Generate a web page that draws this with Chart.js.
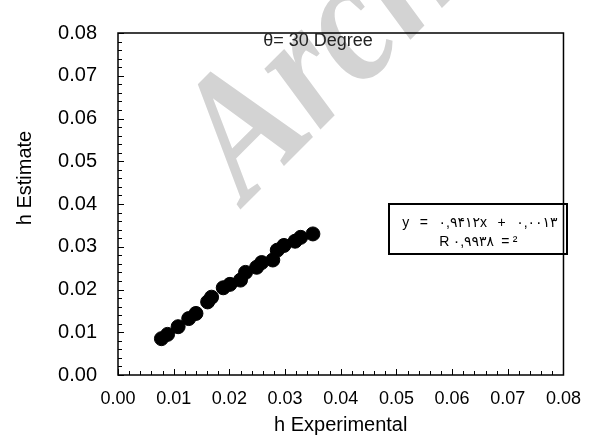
<!DOCTYPE html>
<html>
<head>
<meta charset="utf-8">
<script src="https://cdn.jsdelivr.net/npm/chart.js@4/dist/chart.umd.min.js"></script>
<style>
  html, body { margin: 0; padding: 0; background: #fff; }
  #wrap { width: 594px; height: 446px; }
</style>
</head>
<body>
<div id="wrap"><canvas id="chart"></canvas></div>
<script>
// values
const hExperimental = [0.0078, 0.0089, 0.0108, 0.0127, 0.0140, 0.0161, 0.0168, 0.0189, 0.0201, 0.0220,
  0.0229, 0.0249, 0.0258, 0.0278, 0.0286, 0.0298, 0.0318, 0.0328, 0.0350];
const hEstimate = [0.0085, 0.0095, 0.0113, 0.0132, 0.0144, 0.0171, 0.0182, 0.0204, 0.0212, 0.0222,
  0.0240, 0.0252, 0.0263, 0.0269, 0.0292, 0.0303, 0.0313, 0.0322, 0.0330];
const axisTicks = [0, 0.01, 0.02, 0.03, 0.04, 0.05, 0.06, 0.07, 0.08];
const minorStep = 0.002;

const chartTitle = "θ= 30 Degree";
const fitLines = ["y = ۰,۹۴۱۲x + ۰,۰۰۱۳", "R۰,۹۹۳۸ =²"];
const xTitle = "h Experimental";
const yTitle = "h Estimate";
const watermark = "Archive of SID";

const points = hExperimental.map((x, i) => ({ x: x, y: hEstimate[i] }));

const frame = {
  id: "frame",
  beforeDraw(chart) {
    const ctx = chart.ctx;
    ctx.save();
    ctx.fillStyle = "#fff";
    ctx.fillRect(0, 0, chart.width, chart.height);
    // watermark
    ctx.translate(246, 204);
    ctx.rotate(-45 * Math.PI / 180);
    ctx.scale(0.85, 1);
    ctx.font = "italic bold 180px 'Liberation Serif'";
    ctx.fillStyle = "#d3d3d3";
    ctx.textBaseline = "alphabetic";
    ctx.fillText(watermark, 0, 0);
    ctx.restore();
  },
  afterDatasetsDraw(chart) {
    const ctx = chart.ctx;
    const a = chart.chartArea;
    const xs = chart.scales.x, ys = chart.scales.y;
    ctx.save();
    ctx.strokeStyle = "#000";
    ctx.lineWidth = 1;
    ctx.beginPath();
    const n = Math.round((axisTicks[axisTicks.length - 1] - axisTicks[0]) / minorStep);
    for (let i = 0; i <= n; i++) {
      const v = axisTicks[0] + i * minorStep;
      const len = i % 5 === 0 ? 6 : 4;
      const px = Math.round(xs.getPixelForValue(v)) + 0.5;
      ctx.moveTo(px, a.bottom);
      ctx.lineTo(px, a.bottom - len);
      const py = Math.round(ys.getPixelForValue(v)) + 0.5;
      ctx.moveTo(a.left, py);
      ctx.lineTo(a.left + len, py);
    }
    ctx.stroke();
    ctx.lineWidth = 1.5;
    ctx.strokeRect(a.left, a.top, a.right - a.left, a.bottom - a.top);

    // title inside plot
    ctx.fillStyle = "#222";
    ctx.font = "18px 'Liberation Sans'";
    ctx.textAlign = "center";
    ctx.textBaseline = "alphabetic";
    ctx.fillText(chartTitle, 318, 46);

    // regression box
    ctx.lineWidth = 2;
    ctx.strokeRect(389, 204, 178, 50);
    ctx.fillStyle = "#000";
    ctx.font = "14px 'Liberation Sans', 'DejaVu Sans'";
    ctx.letterSpacing = "3.3px";
    ctx.fillText(fitLines[0], 480, 227);
    ctx.fillText(fitLines[1], 480, 246);
    ctx.letterSpacing = "0px";

    // axis titles
    ctx.font = "20px 'Liberation Sans'";
    ctx.fillText(xTitle, (a.left + a.right) / 2, 431);
    ctx.translate(31, 178);
    ctx.rotate(-Math.PI / 2);
    ctx.fillText(yTitle, 0, 0);
    ctx.restore();
  }
};

new Chart(document.getElementById("chart"), {
  type: "scatter",
  data: {
    datasets: [{
      data: points,
      backgroundColor: "#000",
      borderColor: "#000",
      pointRadius: 7,
      pointHoverRadius: 7,
      showLine: false
    }]
  },
  options: {
    responsive: true,
    maintainAspectRatio: false,
    animation: false,
    events: [],
    layout: { padding: { left: 0, top: 25, right: 23, bottom: 0 } },
    plugins: { legend: { display: false }, tooltip: { enabled: false } },
    scales: {
      x: {
        type: "linear",
        min: 0,
        max: 0.08,
        afterBuildTicks: (s) => { s.ticks = axisTicks.map(v => ({ value: v })); },
        afterFit: (s) => { s.height = 446 - 375; },
        grid: { display: false, drawTicks: false },
        border: { display: false },
        ticks: {
          color: "#000",
          padding: 13,
          maxRotation: 0,
          font: { family: "Liberation Sans", size: 18 },
          callback: (v) => Number(v).toFixed(2)
        }
      },
      y: {
        type: "linear",
        min: 0,
        max: 0.08,
        afterBuildTicks: (s) => { s.ticks = axisTicks.map(v => ({ value: v })); },
        afterFit: (s) => { s.width = 118; },
        grid: { display: false, drawTicks: false },
        border: { display: false },
        ticks: {
          color: "#000",
          padding: 21,
          font: { family: "Liberation Sans", size: 20 },
          callback: (v) => Number(v).toFixed(2)
        }
      }
    }
  },
  plugins: [frame]
});
</script>
</body>
</html>
